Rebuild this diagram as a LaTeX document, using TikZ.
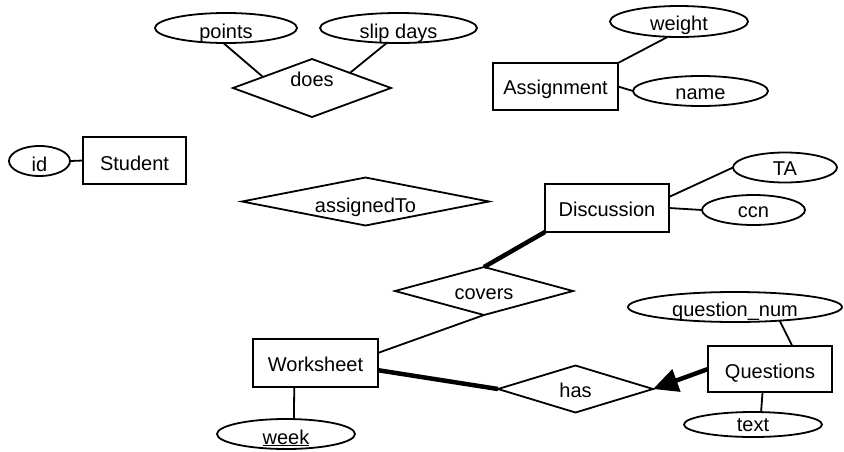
\documentclass[tikz,border=0pt]{standalone}
\usepackage{fontspec}
\setmainfont{Liberation Sans}
\usetikzlibrary{shapes.geometric,calc,arrows.meta}
\newcommand\tx[2]{\smash{\raisebox{#1}{#2}}}
\begin{document}
\begin{tikzpicture}[x=1pt,y=-1pt,
  every node/.style={font=\fontsize{20}{24}\selectfont, inner sep=0pt, outer sep=0pt, line width=1.8pt},
  entity/.style={draw, rectangle},
  attr/.style={draw, ellipse},
  rel/.style={draw, diamond, aspect=4},
  conn/.style={line width=1.8pt},
  boldconn/.style={line width=4.5pt}]
\useasboundingbox (0,0) rectangle (844,451);

% top
\node[attr, minimum width=142pt, minimum height=30pt] (points) at (226,28) {\tx{-10pt}{points}};
\node[attr, minimum width=157pt, minimum height=30pt] (slip) at (398.5,28) {\tx{-10pt}{slip days}};
\node[rel, minimum width=158pt, minimum height=58pt] (does) at (312,88) {\tx{2pt}{does}};

\node[attr, minimum width=138pt, minimum height=31pt] (weight) at (679,21.5) {\tx{-8.5pt}{weight}};
\node[attr, minimum width=135pt, minimum height=30pt] (name) at (700.5,91) {\tx{-8pt}{name}};
\node[entity, minimum width=125pt, minimum height=47pt] (Assignment) at (555.5,86.5) {\tx{-7.5pt}{Assignment}};

% middle
\node[attr, minimum width=61pt, minimum height=30pt] (id) at (39.5,161) {\tx{-10pt}{id}};
\node[entity, minimum width=103pt, minimum height=47pt] (Student) at (134.5,160.5) {\tx{-10pt}{Student}};
\node[rel, minimum width=247pt, minimum height=48pt] (assignedTo) at (365.5,201.5) {\tx{-10.5pt}{assignedTo}};

\node[entity, minimum width=124pt, minimum height=48pt] (Discussion) at (607,208) {\tx{-8.7pt}{Discussion}};
\node[attr, minimum width=104pt, minimum height=30pt] (TA) at (785,167.5) {\tx{-7.5pt}{TA}};
\node[attr, minimum width=103pt, minimum height=30pt] (ccn) at (753.5,210) {\tx{-7pt}{ccn}};

\node[rel, minimum width=178pt, minimum height=48pt] (covers) at (484,291) {\tx{-8pt}{covers}};

% bottom
\node[attr, minimum width=214pt, minimum height=30pt] (qn) at (735,307) {\tx{-9pt}{question\_num}};
\node[entity, minimum width=124pt, minimum height=46pt] (Questions) at (770,369) {\tx{-9pt}{Questions}};
\node[attr, minimum width=138pt, minimum height=25pt] (text) at (753,424.5) {\tx{-7pt}{text}};
\node[rel, minimum width=155pt, minimum height=47pt] (has) at (575.5,389) {\tx{-8.7pt}{has}};
\node[entity, minimum width=125pt, minimum height=48pt] (Worksheet) at (315.5,363) {\tx{-8.7pt}{Worksheet}};
\node[attr, minimum width=138pt, minimum height=30pt] (week) at (286,434) {\tx{-10pt}{\underline{week}}};

% connectors
\draw[conn] (points.-100) -- ($(does.west)!0.38!(does.north)$);
\draw[conn] (slip.-128) -- ($(does.north)!0.48!(does.east)$);
\draw[conn] (weight.-126) -- (Assignment.north east);
\draw[conn] (Assignment.east) -- (name.west);
\draw[conn] (id.east) -- (Student.west);
\draw[conn] ($(Discussion.north east)!0.27!(Discussion.south east)$) -- (TA.west);
\draw[conn] (Discussion.east) -- (ccn.west);
\draw[boldconn] (Discussion.south west) -- (covers.north);
\draw[conn] ($(Worksheet.north east)!0.29!(Worksheet.south east)$) -- (covers.south);
\draw[boldconn] ($(Worksheet.north east)!0.65!(Worksheet.south east)$) -- (has.west);
\draw[conn] ($(Worksheet.south west)!0.33!(Worksheet.south east)$) -- (week.62);
\draw[boldconn, -{Triangle[length=25pt,width=23pt]}] (Questions.west) -- (has.east);
\draw[conn] (qn.-17) -- ($(Questions.north west)!0.68!(Questions.north east)$);
\draw[conn] ($(Questions.south west)!0.44!(Questions.south east)$) -- (text.57);
\end{tikzpicture}
\end{document}
